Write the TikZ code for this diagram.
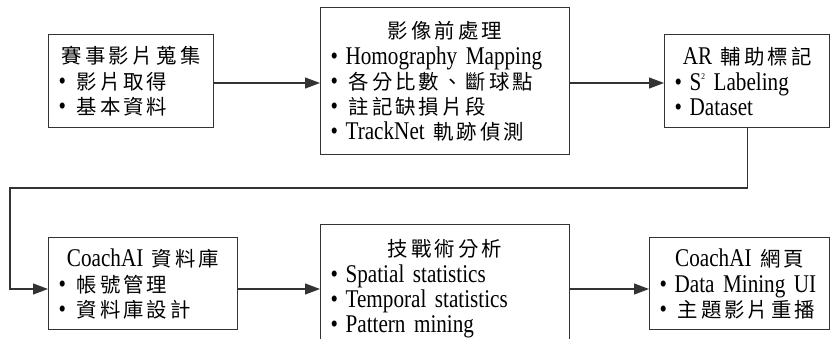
\documentclass[tikz,border=0pt]{standalone}
\usepackage{fontspec}
\setmainfont[FakeStretch=0.83,WordSpace=0.8]{Liberation Serif}
\newfontfamily\cjk[LetterSpace=15,Scale=0.8]{Noto Sans CJK TC}
\usetikzlibrary{arrows.meta}
\newcommand{\zh}[1]{{\cjk #1}}
\newcommand{\ttl}[1]{\makebox[\hsize][c]{#1}}
\newcommand{\bl}{\makebox[15pt][l]{•}}
\newcommand{\bc}{\makebox[18pt][l]{•}}
\begin{document}
\begin{tikzpicture}[x=1pt,y=-1pt,
  box/.style={draw=black!80, line width=1.2pt, rectangle, inner xsep=10pt, inner ysep=0pt,
    align=left, font=\fontsize{25.5}{25}\selectfont, anchor=north west},
  arr/.style={line width=1.2pt, draw=black!80, -{Triangle[length=15pt,width=11pt]}}]
\useasboundingbox (0,0) rectangle (834,339);

\node[box, text width=145pt, minimum width=165pt, minimum height=93pt] (b1) at (48,34)
  {\ttl{\zh{賽事影片\hspace{4pt}蒐集}}\\[1pt] \bc\zh{影片取得}\\ \bc\zh{基本資料}};
\node[box, text width=229pt, minimum width=249pt, minimum height=147pt] (b2) at (320,7)
  {\ttl{\zh{影像前處理}}\\[1pt] \bl Homography Mapping\\ \bc\zh{各分比數、斷球點}\\ \bc\zh{註記缺損片段}\\ \bl TrackNet \zh{軌跡偵測}};
\node[box, text width=145pt, minimum width=165pt, minimum height=93pt] (b3) at (664,34)
  {\ttl{AR \zh{輔助標記}}\\[1pt] \bl S\raisebox{11pt}{\fontsize{9}{9}\selectfont 2} Labeling\\ \bl Dataset};
\node[box, text width=169pt, minimum width=189pt, minimum height=92pt] (b4) at (48,237)
  {\ttl{CoachAI \zh{資料庫}}\\[1pt] \bc\zh{帳號管理}\\ \bc\zh{資料庫設計}};
\node[box, text width=229pt, minimum width=249pt, minimum height=147pt] (b5) at (320,224)
  {\ttl{\zh{技戰術分析}}\\[1pt] \bl Spatial statistics\\ \bl Temporal statistics\\ \bl Pattern mining\\ \mbox{}};
\node[box, text width=160pt, minimum width=180pt, minimum height=92pt] (b6) at (649,237)
  {\ttl{CoachAI \zh{網頁}}\\[1pt] \bl Data Mining UI\\ \bc\zh{主題影片重播}};

\coordinate (ya) at (0,83);
\coordinate (yb) at (0,289);
\coordinate (t1) at (10,188);
\draw[arr] (b1.east |- ya) -- (b2.west |- ya);
\draw[arr] (b2.east |- ya) -- (b3.west |- ya);
\draw[arr] (b3.south) |- (t1) |- (b4.west |- yb);
\draw[arr] (b4.east |- yb) -- (b5.west |- yb);
\draw[arr] (b5.east |- yb) -- (b6.west |- yb);
\end{tikzpicture}
\end{document}
